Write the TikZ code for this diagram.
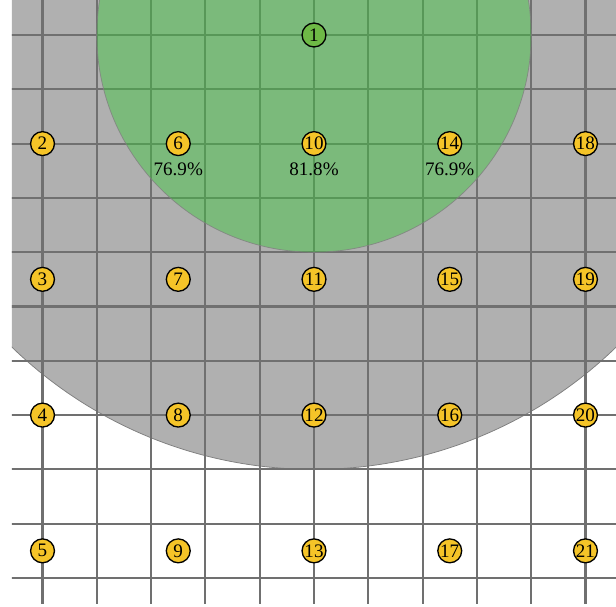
\documentclass[tikz,border=0pt]{standalone}
\usepackage{fontspec}
\setmainfont{Liberation Serif}
\definecolor{cellgray}{RGB}{176,176,176}
\definecolor{gridgray}{RGB}{112,112,112}
\definecolor{greenfill}{RGB}{60,200,60}
\definecolor{nodeyellow}{RGB}{245,196,40}
\definecolor{nodegreen}{RGB}{110,185,70}
\tikzset{
  pt/.style={circle, draw=black, line width=0.7pt, fill=nodeyellow, minimum size=0.44cm, inner sep=0pt, font=\fontsize{10}{12}\selectfont},
  src/.style={pt, fill=nodegreen},
  pct/.style={font=\fontsize{10}{12}\selectfont, inner sep=0pt},
  gridline/.style={draw=gridgray, line width=1.1pt},
}
\begin{document}
\begin{tikzpicture}
\useasboundingbox (-5.783,-10.516) rectangle (5.562,0.645);
\begin{scope}
\clip (-5.562,-10.473) rectangle (5.562,0.645);
\fill[cellgray, draw=gray, line width=0.4pt] (0,0) circle (8);
\foreach \y in {0,-1,...,-10} \draw[gridline] (-5.6,\y) -- (5.6,\y);
\foreach \x in {-5,...,5} \draw[gridline] (\x,0.7) -- (\x,-10.5);
\fill[greenfill, fill opacity=0.45, draw=gray, draw opacity=0.8, line width=0.4pt] (0,0) circle (4);
\end{scope}
\node[src] (n1) at (0,0) {1};
\node[pt] (n2) at (-5,-2) {2};
\node[pt] (n3) at (-5,-4.5) {3};
\node[pt] (n4) at (-5,-7) {4};
\node[pt] (n5) at (-5,-9.5) {5};
\node[pt] (n6) at (-2.5,-2) {6};
\node[pt] (n7) at (-2.5,-4.5) {7};
\node[pt] (n8) at (-2.5,-7) {8};
\node[pt] (n9) at (-2.5,-9.5) {9};
\node[pt] (n10) at (0,-2) {10};
\node[pt] (n11) at (0,-4.5) {11};
\node[pt] (n12) at (0,-7) {12};
\node[pt] (n13) at (0,-9.5) {13};
\node[pt] (n14) at (2.5,-2) {14};
\node[pt] (n15) at (2.5,-4.5) {15};
\node[pt] (n16) at (2.5,-7) {16};
\node[pt] (n17) at (2.5,-9.5) {17};
\node[pt] (n18) at (5,-2) {18};
\node[pt] (n19) at (5,-4.5) {19};
\node[pt] (n20) at (5,-7) {20};
\node[pt] (n21) at (5,-9.5) {21};
\node[pct] (l6) at (-2.5,-2.48) {76.9\%};
\node[pct] (l10) at (0,-2.48) {81.8\%};
\node[pct] (l14) at (2.5,-2.48) {76.9\%};
\end{tikzpicture}
\end{document}
